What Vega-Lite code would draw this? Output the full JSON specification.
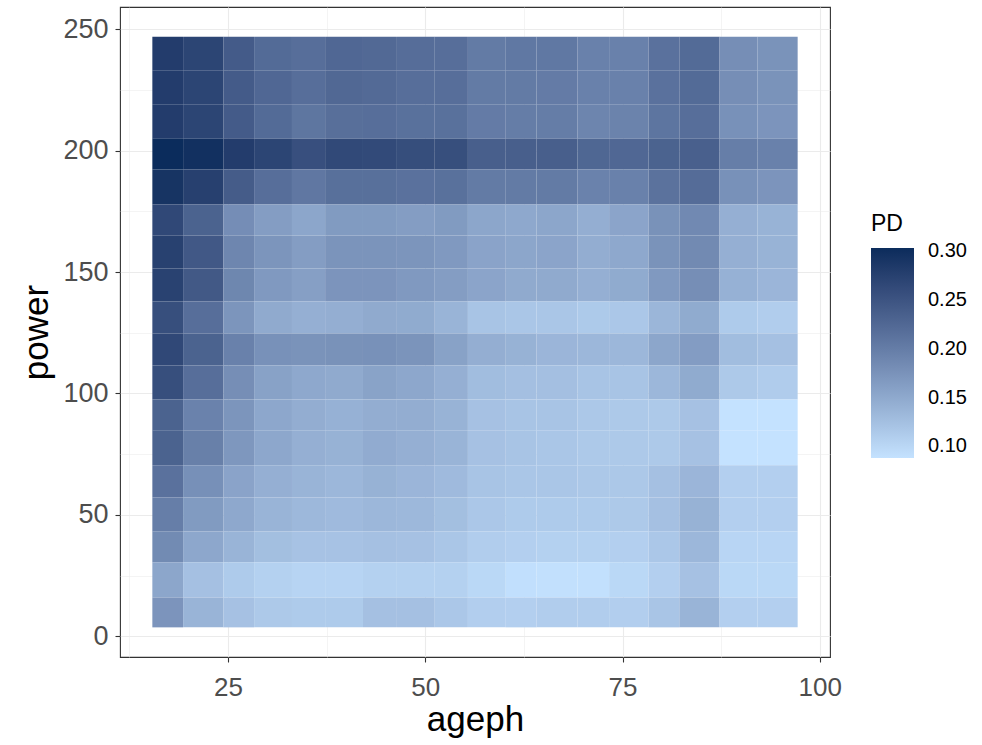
{
"$schema": "https://vega.github.io/schema/vega-lite/v6.json",
"width": 710, "height": 650,
"autosize": {"type": "none"},
"padding": {"left": 120, "top": 7, "right": 152, "bottom": 88},
"config": {"view": {"stroke": "#333333", "strokeWidth": 1.1}, "font": "Liberation Sans"},
"data": {"values": [
{"a0":15.4,"a1":19.3,"p0":232.9,"p1":246.9,"PD":0.281},{"a0":19.3,"a1":24.4,"p0":232.9,"p1":246.9,"PD":0.270},{"a0":24.4,"a1":28.3,"p0":232.9,"p1":246.9,"PD":0.241},{"a0":28.3,"a1":33.1,"p0":232.9,"p1":246.9,"PD":0.222},{"a0":33.1,"a1":37.3,"p0":232.9,"p1":246.9,"PD":0.218},{"a0":37.3,"a1":42.1,"p0":232.9,"p1":246.9,"PD":0.226},{"a0":42.1,"a1":46.4,"p0":232.9,"p1":246.9,"PD":0.224},{"a0":46.4,"a1":51.2,"p0":232.9,"p1":246.9,"PD":0.219},{"a0":51.2,"a1":55.4,"p0":232.9,"p1":246.9,"PD":0.218},{"a0":55.4,"a1":60.2,"p0":232.9,"p1":246.9,"PD":0.203},{"a0":60.2,"a1":64.1,"p0":232.9,"p1":246.9,"PD":0.206},{"a0":64.1,"a1":69.3,"p0":232.9,"p1":246.9,"PD":0.206},{"a0":69.3,"a1":73.3,"p0":232.9,"p1":246.9,"PD":0.195},{"a0":73.3,"a1":78.3,"p0":232.9,"p1":246.9,"PD":0.195},{"a0":78.3,"a1":82.2,"p0":232.9,"p1":246.9,"PD":0.214},{"a0":82.2,"a1":87.3,"p0":232.9,"p1":246.9,"PD":0.222},{"a0":87.3,"a1":92.1,"p0":232.9,"p1":246.9,"PD":0.180},{"a0":92.1,"a1":97.2,"p0":232.9,"p1":246.9,"PD":0.175},
{"a0":15.4,"a1":19.3,"p0":218.9,"p1":232.9,"PD":0.281},{"a0":19.3,"a1":24.4,"p0":218.9,"p1":232.9,"PD":0.270},{"a0":24.4,"a1":28.3,"p0":218.9,"p1":232.9,"PD":0.241},{"a0":28.3,"a1":33.1,"p0":218.9,"p1":232.9,"PD":0.226},{"a0":33.1,"a1":37.3,"p0":218.9,"p1":232.9,"PD":0.218},{"a0":37.3,"a1":42.1,"p0":218.9,"p1":232.9,"PD":0.225},{"a0":42.1,"a1":46.4,"p0":218.9,"p1":232.9,"PD":0.223},{"a0":46.4,"a1":51.2,"p0":218.9,"p1":232.9,"PD":0.218},{"a0":51.2,"a1":55.4,"p0":218.9,"p1":232.9,"PD":0.218},{"a0":55.4,"a1":60.2,"p0":218.9,"p1":232.9,"PD":0.203},{"a0":60.2,"a1":64.1,"p0":218.9,"p1":232.9,"PD":0.203},{"a0":64.1,"a1":69.3,"p0":218.9,"p1":232.9,"PD":0.202},{"a0":69.3,"a1":73.3,"p0":218.9,"p1":232.9,"PD":0.195},{"a0":73.3,"a1":78.3,"p0":218.9,"p1":232.9,"PD":0.195},{"a0":78.3,"a1":82.2,"p0":218.9,"p1":232.9,"PD":0.214},{"a0":82.2,"a1":87.3,"p0":218.9,"p1":232.9,"PD":0.222},{"a0":87.3,"a1":92.1,"p0":218.9,"p1":232.9,"PD":0.180},{"a0":92.1,"a1":97.2,"p0":218.9,"p1":232.9,"PD":0.175},
{"a0":15.4,"a1":19.3,"p0":204.9,"p1":218.9,"PD":0.281},{"a0":19.3,"a1":24.4,"p0":204.9,"p1":218.9,"PD":0.270},{"a0":24.4,"a1":28.3,"p0":204.9,"p1":218.9,"PD":0.241},{"a0":28.3,"a1":33.1,"p0":204.9,"p1":218.9,"PD":0.222},{"a0":33.1,"a1":37.3,"p0":204.9,"p1":218.9,"PD":0.209},{"a0":37.3,"a1":42.1,"p0":204.9,"p1":218.9,"PD":0.217},{"a0":42.1,"a1":46.4,"p0":204.9,"p1":218.9,"PD":0.218},{"a0":46.4,"a1":51.2,"p0":204.9,"p1":218.9,"PD":0.215},{"a0":51.2,"a1":55.4,"p0":204.9,"p1":218.9,"PD":0.215},{"a0":55.4,"a1":60.2,"p0":204.9,"p1":218.9,"PD":0.202},{"a0":60.2,"a1":64.1,"p0":204.9,"p1":218.9,"PD":0.200},{"a0":64.1,"a1":69.3,"p0":204.9,"p1":218.9,"PD":0.200},{"a0":69.3,"a1":73.3,"p0":204.9,"p1":218.9,"PD":0.191},{"a0":73.3,"a1":78.3,"p0":204.9,"p1":218.9,"PD":0.193},{"a0":78.3,"a1":82.2,"p0":204.9,"p1":218.9,"PD":0.210},{"a0":82.2,"a1":87.3,"p0":204.9,"p1":218.9,"PD":0.218},{"a0":87.3,"a1":92.1,"p0":204.9,"p1":218.9,"PD":0.177},{"a0":92.1,"a1":97.2,"p0":204.9,"p1":218.9,"PD":0.173},
{"a0":15.4,"a1":19.3,"p0":192.2,"p1":204.9,"PD":0.3035},{"a0":19.3,"a1":24.4,"p0":192.2,"p1":204.9,"PD":0.298},{"a0":24.4,"a1":28.3,"p0":192.2,"p1":204.9,"PD":0.281},{"a0":28.3,"a1":33.1,"p0":192.2,"p1":204.9,"PD":0.270},{"a0":33.1,"a1":37.3,"p0":192.2,"p1":204.9,"PD":0.256},{"a0":37.3,"a1":42.1,"p0":192.2,"p1":204.9,"PD":0.264},{"a0":42.1,"a1":46.4,"p0":192.2,"p1":204.9,"PD":0.263},{"a0":46.4,"a1":51.2,"p0":192.2,"p1":204.9,"PD":0.258},{"a0":51.2,"a1":55.4,"p0":192.2,"p1":204.9,"PD":0.257},{"a0":55.4,"a1":60.2,"p0":192.2,"p1":204.9,"PD":0.236},{"a0":60.2,"a1":64.1,"p0":192.2,"p1":204.9,"PD":0.236},{"a0":64.1,"a1":69.3,"p0":192.2,"p1":204.9,"PD":0.236},{"a0":69.3,"a1":73.3,"p0":192.2,"p1":204.9,"PD":0.227},{"a0":73.3,"a1":78.3,"p0":192.2,"p1":204.9,"PD":0.226},{"a0":78.3,"a1":82.2,"p0":192.2,"p1":204.9,"PD":0.232},{"a0":82.2,"a1":87.3,"p0":192.2,"p1":204.9,"PD":0.235},{"a0":87.3,"a1":92.1,"p0":192.2,"p1":204.9,"PD":0.199},{"a0":92.1,"a1":97.2,"p0":192.2,"p1":204.9,"PD":0.195},
{"a0":15.4,"a1":19.3,"p0":177.8,"p1":192.2,"PD":0.293},{"a0":19.3,"a1":24.4,"p0":177.8,"p1":192.2,"PD":0.276},{"a0":24.4,"a1":28.3,"p0":177.8,"p1":192.2,"PD":0.240},{"a0":28.3,"a1":33.1,"p0":177.8,"p1":192.2,"PD":0.218},{"a0":33.1,"a1":37.3,"p0":177.8,"p1":192.2,"PD":0.207},{"a0":37.3,"a1":42.1,"p0":177.8,"p1":192.2,"PD":0.216},{"a0":42.1,"a1":46.4,"p0":177.8,"p1":192.2,"PD":0.216},{"a0":46.4,"a1":51.2,"p0":177.8,"p1":192.2,"PD":0.214},{"a0":51.2,"a1":55.4,"p0":177.8,"p1":192.2,"PD":0.215},{"a0":55.4,"a1":60.2,"p0":177.8,"p1":192.2,"PD":0.203},{"a0":60.2,"a1":64.1,"p0":177.8,"p1":192.2,"PD":0.203},{"a0":64.1,"a1":69.3,"p0":177.8,"p1":192.2,"PD":0.203},{"a0":69.3,"a1":73.3,"p0":177.8,"p1":192.2,"PD":0.194},{"a0":73.3,"a1":78.3,"p0":177.8,"p1":192.2,"PD":0.195},{"a0":78.3,"a1":82.2,"p0":177.8,"p1":192.2,"PD":0.213},{"a0":82.2,"a1":87.3,"p0":177.8,"p1":192.2,"PD":0.220},{"a0":87.3,"a1":92.1,"p0":177.8,"p1":192.2,"PD":0.177},{"a0":92.1,"a1":97.2,"p0":177.8,"p1":192.2,"PD":0.173},
{"a0":15.4,"a1":19.3,"p0":165.0,"p1":177.8,"PD":0.265},{"a0":19.3,"a1":24.4,"p0":165.0,"p1":177.8,"PD":0.232},{"a0":24.4,"a1":28.3,"p0":165.0,"p1":177.8,"PD":0.181},{"a0":28.3,"a1":33.1,"p0":165.0,"p1":177.8,"PD":0.163},{"a0":33.1,"a1":37.3,"p0":165.0,"p1":177.8,"PD":0.153},{"a0":37.3,"a1":42.1,"p0":165.0,"p1":177.8,"PD":0.166},{"a0":42.1,"a1":46.4,"p0":165.0,"p1":177.8,"PD":0.166},{"a0":46.4,"a1":51.2,"p0":165.0,"p1":177.8,"PD":0.163},{"a0":51.2,"a1":55.4,"p0":165.0,"p1":177.8,"PD":0.166},{"a0":55.4,"a1":60.2,"p0":165.0,"p1":177.8,"PD":0.153},{"a0":60.2,"a1":64.1,"p0":165.0,"p1":177.8,"PD":0.151},{"a0":64.1,"a1":69.3,"p0":165.0,"p1":177.8,"PD":0.153},{"a0":69.3,"a1":73.3,"p0":165.0,"p1":177.8,"PD":0.144},{"a0":73.3,"a1":78.3,"p0":165.0,"p1":177.8,"PD":0.155},{"a0":78.3,"a1":82.2,"p0":165.0,"p1":177.8,"PD":0.176},{"a0":82.2,"a1":87.3,"p0":165.0,"p1":177.8,"PD":0.186},{"a0":87.3,"a1":92.1,"p0":165.0,"p1":177.8,"PD":0.143},{"a0":92.1,"a1":97.2,"p0":165.0,"p1":177.8,"PD":0.139},
{"a0":15.4,"a1":19.3,"p0":151.4,"p1":165.0,"PD":0.275},{"a0":19.3,"a1":24.4,"p0":151.4,"p1":165.0,"PD":0.245},{"a0":24.4,"a1":28.3,"p0":151.4,"p1":165.0,"PD":0.190},{"a0":28.3,"a1":33.1,"p0":151.4,"p1":165.0,"PD":0.172},{"a0":33.1,"a1":37.3,"p0":151.4,"p1":165.0,"PD":0.163},{"a0":37.3,"a1":42.1,"p0":151.4,"p1":165.0,"PD":0.174},{"a0":42.1,"a1":46.4,"p0":151.4,"p1":165.0,"PD":0.174},{"a0":46.4,"a1":51.2,"p0":151.4,"p1":165.0,"PD":0.172},{"a0":51.2,"a1":55.4,"p0":151.4,"p1":165.0,"PD":0.168},{"a0":55.4,"a1":60.2,"p0":151.4,"p1":165.0,"PD":0.156},{"a0":60.2,"a1":64.1,"p0":151.4,"p1":165.0,"PD":0.153},{"a0":64.1,"a1":69.3,"p0":151.4,"p1":165.0,"PD":0.155},{"a0":69.3,"a1":73.3,"p0":151.4,"p1":165.0,"PD":0.145},{"a0":73.3,"a1":78.3,"p0":151.4,"p1":165.0,"PD":0.151},{"a0":78.3,"a1":82.2,"p0":151.4,"p1":165.0,"PD":0.175},{"a0":82.2,"a1":87.3,"p0":151.4,"p1":165.0,"PD":0.185},{"a0":87.3,"a1":92.1,"p0":151.4,"p1":165.0,"PD":0.143},{"a0":92.1,"a1":97.2,"p0":151.4,"p1":165.0,"PD":0.139},
{"a0":15.4,"a1":19.3,"p0":137.9,"p1":151.4,"PD":0.274},{"a0":19.3,"a1":24.4,"p0":137.9,"p1":151.4,"PD":0.244},{"a0":24.4,"a1":28.3,"p0":137.9,"p1":151.4,"PD":0.189},{"a0":28.3,"a1":33.1,"p0":137.9,"p1":151.4,"PD":0.168},{"a0":33.1,"a1":37.3,"p0":137.9,"p1":151.4,"PD":0.161},{"a0":37.3,"a1":42.1,"p0":137.9,"p1":151.4,"PD":0.173},{"a0":42.1,"a1":46.4,"p0":137.9,"p1":151.4,"PD":0.173},{"a0":46.4,"a1":51.2,"p0":137.9,"p1":151.4,"PD":0.168},{"a0":51.2,"a1":55.4,"p0":137.9,"p1":151.4,"PD":0.163},{"a0":55.4,"a1":60.2,"p0":137.9,"p1":151.4,"PD":0.155},{"a0":60.2,"a1":64.1,"p0":137.9,"p1":151.4,"PD":0.149},{"a0":64.1,"a1":69.3,"p0":137.9,"p1":151.4,"PD":0.149},{"a0":69.3,"a1":73.3,"p0":137.9,"p1":151.4,"PD":0.143},{"a0":73.3,"a1":78.3,"p0":137.9,"p1":151.4,"PD":0.148},{"a0":78.3,"a1":82.2,"p0":137.9,"p1":151.4,"PD":0.168},{"a0":82.2,"a1":87.3,"p0":137.9,"p1":151.4,"PD":0.180},{"a0":87.3,"a1":92.1,"p0":137.9,"p1":151.4,"PD":0.141},{"a0":92.1,"a1":97.2,"p0":137.9,"p1":151.4,"PD":0.136},
{"a0":15.4,"a1":19.3,"p0":124.7,"p1":137.9,"PD":0.257},{"a0":19.3,"a1":24.4,"p0":124.7,"p1":137.9,"PD":0.218},{"a0":24.4,"a1":28.3,"p0":124.7,"p1":137.9,"PD":0.172},{"a0":28.3,"a1":33.1,"p0":124.7,"p1":137.9,"PD":0.149},{"a0":33.1,"a1":37.3,"p0":124.7,"p1":137.9,"PD":0.143},{"a0":37.3,"a1":42.1,"p0":124.7,"p1":137.9,"PD":0.144},{"a0":42.1,"a1":46.4,"p0":124.7,"p1":137.9,"PD":0.149},{"a0":46.4,"a1":51.2,"p0":124.7,"p1":137.9,"PD":0.148},{"a0":51.2,"a1":55.4,"p0":124.7,"p1":137.9,"PD":0.138},{"a0":55.4,"a1":60.2,"p0":124.7,"p1":137.9,"PD":0.120},{"a0":60.2,"a1":64.1,"p0":124.7,"p1":137.9,"PD":0.118},{"a0":64.1,"a1":69.3,"p0":124.7,"p1":137.9,"PD":0.118},{"a0":69.3,"a1":73.3,"p0":124.7,"p1":137.9,"PD":0.114},{"a0":73.3,"a1":78.3,"p0":124.7,"p1":137.9,"PD":0.117},{"a0":78.3,"a1":82.2,"p0":124.7,"p1":137.9,"PD":0.135},{"a0":82.2,"a1":87.3,"p0":124.7,"p1":137.9,"PD":0.148},{"a0":87.3,"a1":92.1,"p0":124.7,"p1":137.9,"PD":0.113},{"a0":92.1,"a1":97.2,"p0":124.7,"p1":137.9,"PD":0.110},
{"a0":15.4,"a1":19.3,"p0":111.5,"p1":124.7,"PD":0.265},{"a0":19.3,"a1":24.4,"p0":111.5,"p1":124.7,"PD":0.232},{"a0":24.4,"a1":28.3,"p0":111.5,"p1":124.7,"PD":0.195},{"a0":28.3,"a1":33.1,"p0":111.5,"p1":124.7,"PD":0.177},{"a0":33.1,"a1":37.3,"p0":111.5,"p1":124.7,"PD":0.175},{"a0":37.3,"a1":42.1,"p0":111.5,"p1":124.7,"PD":0.176},{"a0":42.1,"a1":46.4,"p0":111.5,"p1":124.7,"PD":0.177},{"a0":46.4,"a1":51.2,"p0":111.5,"p1":124.7,"PD":0.174},{"a0":51.2,"a1":55.4,"p0":111.5,"p1":124.7,"PD":0.158},{"a0":55.4,"a1":60.2,"p0":111.5,"p1":124.7,"PD":0.144},{"a0":60.2,"a1":64.1,"p0":111.5,"p1":124.7,"PD":0.140},{"a0":64.1,"a1":69.3,"p0":111.5,"p1":124.7,"PD":0.136},{"a0":69.3,"a1":73.3,"p0":111.5,"p1":124.7,"PD":0.134},{"a0":73.3,"a1":78.3,"p0":111.5,"p1":124.7,"PD":0.134},{"a0":78.3,"a1":82.2,"p0":111.5,"p1":124.7,"PD":0.153},{"a0":82.2,"a1":87.3,"p0":111.5,"p1":124.7,"PD":0.164},{"a0":87.3,"a1":92.1,"p0":111.5,"p1":124.7,"PD":0.128},{"a0":92.1,"a1":97.2,"p0":111.5,"p1":124.7,"PD":0.124},
{"a0":15.4,"a1":19.3,"p0":97.5,"p1":111.5,"PD":0.257},{"a0":19.3,"a1":24.4,"p0":97.5,"p1":111.5,"PD":0.218},{"a0":24.4,"a1":28.3,"p0":97.5,"p1":111.5,"PD":0.180},{"a0":28.3,"a1":33.1,"p0":97.5,"p1":111.5,"PD":0.158},{"a0":33.1,"a1":37.3,"p0":97.5,"p1":111.5,"PD":0.151},{"a0":37.3,"a1":42.1,"p0":97.5,"p1":111.5,"PD":0.149},{"a0":42.1,"a1":46.4,"p0":97.5,"p1":111.5,"PD":0.157},{"a0":46.4,"a1":51.2,"p0":97.5,"p1":111.5,"PD":0.152},{"a0":51.2,"a1":55.4,"p0":97.5,"p1":111.5,"PD":0.143},{"a0":55.4,"a1":60.2,"p0":97.5,"p1":111.5,"PD":0.128},{"a0":60.2,"a1":64.1,"p0":97.5,"p1":111.5,"PD":0.125},{"a0":64.1,"a1":69.3,"p0":97.5,"p1":111.5,"PD":0.125},{"a0":69.3,"a1":73.3,"p0":97.5,"p1":111.5,"PD":0.120},{"a0":73.3,"a1":78.3,"p0":97.5,"p1":111.5,"PD":0.120},{"a0":78.3,"a1":82.2,"p0":97.5,"p1":111.5,"PD":0.134},{"a0":82.2,"a1":87.3,"p0":97.5,"p1":111.5,"PD":0.148},{"a0":87.3,"a1":92.1,"p0":97.5,"p1":111.5,"PD":0.115},{"a0":92.1,"a1":97.2,"p0":97.5,"p1":111.5,"PD":0.111},
{"a0":15.4,"a1":19.3,"p0":84.8,"p1":97.5,"PD":0.232},{"a0":19.3,"a1":24.4,"p0":84.8,"p1":97.5,"PD":0.194},{"a0":24.4,"a1":28.3,"p0":84.8,"p1":97.5,"PD":0.172},{"a0":28.3,"a1":33.1,"p0":84.8,"p1":97.5,"PD":0.152},{"a0":33.1,"a1":37.3,"p0":84.8,"p1":97.5,"PD":0.145},{"a0":37.3,"a1":42.1,"p0":84.8,"p1":97.5,"PD":0.141},{"a0":42.1,"a1":46.4,"p0":84.8,"p1":97.5,"PD":0.145},{"a0":46.4,"a1":51.2,"p0":84.8,"p1":97.5,"PD":0.145},{"a0":51.2,"a1":55.4,"p0":84.8,"p1":97.5,"PD":0.139},{"a0":55.4,"a1":60.2,"p0":84.8,"p1":97.5,"PD":0.123},{"a0":60.2,"a1":64.1,"p0":84.8,"p1":97.5,"PD":0.120},{"a0":64.1,"a1":69.3,"p0":84.8,"p1":97.5,"PD":0.120},{"a0":69.3,"a1":73.3,"p0":84.8,"p1":97.5,"PD":0.116},{"a0":73.3,"a1":78.3,"p0":84.8,"p1":97.5,"PD":0.115},{"a0":78.3,"a1":82.2,"p0":84.8,"p1":97.5,"PD":0.115},{"a0":82.2,"a1":87.3,"p0":84.8,"p1":97.5,"PD":0.123},{"a0":87.3,"a1":92.1,"p0":84.8,"p1":97.5,"PD":0.088},{"a0":92.1,"a1":97.2,"p0":84.8,"p1":97.5,"PD":0.088},
{"a0":15.4,"a1":19.3,"p0":70.4,"p1":84.8,"PD":0.232},{"a0":19.3,"a1":24.4,"p0":70.4,"p1":84.8,"PD":0.197},{"a0":24.4,"a1":28.3,"p0":70.4,"p1":84.8,"PD":0.170},{"a0":28.3,"a1":33.1,"p0":70.4,"p1":84.8,"PD":0.152},{"a0":33.1,"a1":37.3,"p0":70.4,"p1":84.8,"PD":0.143},{"a0":37.3,"a1":42.1,"p0":70.4,"p1":84.8,"PD":0.140},{"a0":42.1,"a1":46.4,"p0":70.4,"p1":84.8,"PD":0.147},{"a0":46.4,"a1":51.2,"p0":70.4,"p1":84.8,"PD":0.143},{"a0":51.2,"a1":55.4,"p0":70.4,"p1":84.8,"PD":0.138},{"a0":55.4,"a1":60.2,"p0":70.4,"p1":84.8,"PD":0.123},{"a0":60.2,"a1":64.1,"p0":70.4,"p1":84.8,"PD":0.120},{"a0":64.1,"a1":69.3,"p0":70.4,"p1":84.8,"PD":0.118},{"a0":69.3,"a1":73.3,"p0":70.4,"p1":84.8,"PD":0.115},{"a0":73.3,"a1":78.3,"p0":70.4,"p1":84.8,"PD":0.115},{"a0":78.3,"a1":82.2,"p0":70.4,"p1":84.8,"PD":0.115},{"a0":82.2,"a1":87.3,"p0":70.4,"p1":84.8,"PD":0.123},{"a0":87.3,"a1":92.1,"p0":70.4,"p1":84.8,"PD":0.088},{"a0":92.1,"a1":97.2,"p0":70.4,"p1":84.8,"PD":0.088},
{"a0":15.4,"a1":19.3,"p0":57.2,"p1":70.4,"PD":0.214},{"a0":19.3,"a1":24.4,"p0":57.2,"p1":70.4,"PD":0.178},{"a0":24.4,"a1":28.3,"p0":57.2,"p1":70.4,"PD":0.156},{"a0":28.3,"a1":33.1,"p0":57.2,"p1":70.4,"PD":0.143},{"a0":33.1,"a1":37.3,"p0":57.2,"p1":70.4,"PD":0.138},{"a0":37.3,"a1":42.1,"p0":57.2,"p1":70.4,"PD":0.134},{"a0":42.1,"a1":46.4,"p0":57.2,"p1":70.4,"PD":0.140},{"a0":46.4,"a1":51.2,"p0":57.2,"p1":70.4,"PD":0.136},{"a0":51.2,"a1":55.4,"p0":57.2,"p1":70.4,"PD":0.131},{"a0":55.4,"a1":60.2,"p0":57.2,"p1":70.4,"PD":0.120},{"a0":60.2,"a1":64.1,"p0":57.2,"p1":70.4,"PD":0.118},{"a0":64.1,"a1":69.3,"p0":57.2,"p1":70.4,"PD":0.118},{"a0":69.3,"a1":73.3,"p0":57.2,"p1":70.4,"PD":0.116},{"a0":73.3,"a1":78.3,"p0":57.2,"p1":70.4,"PD":0.116},{"a0":78.3,"a1":82.2,"p0":57.2,"p1":70.4,"PD":0.124},{"a0":82.2,"a1":87.3,"p0":57.2,"p1":70.4,"PD":0.136},{"a0":87.3,"a1":92.1,"p0":57.2,"p1":70.4,"PD":0.108},{"a0":92.1,"a1":97.2,"p0":57.2,"p1":70.4,"PD":0.108},
{"a0":15.4,"a1":19.3,"p0":43.2,"p1":57.2,"PD":0.199},{"a0":19.3,"a1":24.4,"p0":43.2,"p1":57.2,"PD":0.166},{"a0":24.4,"a1":28.3,"p0":43.2,"p1":57.2,"PD":0.151},{"a0":28.3,"a1":33.1,"p0":43.2,"p1":57.2,"PD":0.138},{"a0":33.1,"a1":37.3,"p0":43.2,"p1":57.2,"PD":0.133},{"a0":37.3,"a1":42.1,"p0":43.2,"p1":57.2,"PD":0.131},{"a0":42.1,"a1":46.4,"p0":43.2,"p1":57.2,"PD":0.134},{"a0":46.4,"a1":51.2,"p0":43.2,"p1":57.2,"PD":0.133},{"a0":51.2,"a1":55.4,"p0":43.2,"p1":57.2,"PD":0.126},{"a0":55.4,"a1":60.2,"p0":43.2,"p1":57.2,"PD":0.117},{"a0":60.2,"a1":64.1,"p0":43.2,"p1":57.2,"PD":0.113},{"a0":64.1,"a1":69.3,"p0":43.2,"p1":57.2,"PD":0.113},{"a0":69.3,"a1":73.3,"p0":43.2,"p1":57.2,"PD":0.113},{"a0":73.3,"a1":78.3,"p0":43.2,"p1":57.2,"PD":0.115},{"a0":78.3,"a1":82.2,"p0":43.2,"p1":57.2,"PD":0.124},{"a0":82.2,"a1":87.3,"p0":43.2,"p1":57.2,"PD":0.140},{"a0":87.3,"a1":92.1,"p0":43.2,"p1":57.2,"PD":0.108},{"a0":92.1,"a1":97.2,"p0":43.2,"p1":57.2,"PD":0.108},
{"a0":15.4,"a1":19.3,"p0":30.5,"p1":43.2,"PD":0.184},{"a0":19.3,"a1":24.4,"p0":30.5,"p1":43.2,"PD":0.152},{"a0":24.4,"a1":28.3,"p0":30.5,"p1":43.2,"PD":0.138},{"a0":28.3,"a1":33.1,"p0":30.5,"p1":43.2,"PD":0.126},{"a0":33.1,"a1":37.3,"p0":30.5,"p1":43.2,"PD":0.122},{"a0":37.3,"a1":42.1,"p0":30.5,"p1":43.2,"PD":0.122},{"a0":42.1,"a1":46.4,"p0":30.5,"p1":43.2,"PD":0.124},{"a0":46.4,"a1":51.2,"p0":30.5,"p1":43.2,"PD":0.123},{"a0":51.2,"a1":55.4,"p0":30.5,"p1":43.2,"PD":0.118},{"a0":55.4,"a1":60.2,"p0":30.5,"p1":43.2,"PD":0.110},{"a0":60.2,"a1":64.1,"p0":30.5,"p1":43.2,"PD":0.108},{"a0":64.1,"a1":69.3,"p0":30.5,"p1":43.2,"PD":0.106},{"a0":69.3,"a1":73.3,"p0":30.5,"p1":43.2,"PD":0.106},{"a0":73.3,"a1":78.3,"p0":30.5,"p1":43.2,"PD":0.108},{"a0":78.3,"a1":82.2,"p0":30.5,"p1":43.2,"PD":0.117},{"a0":82.2,"a1":87.3,"p0":30.5,"p1":43.2,"PD":0.134},{"a0":87.3,"a1":92.1,"p0":30.5,"p1":43.2,"PD":0.102},{"a0":92.1,"a1":97.2,"p0":30.5,"p1":43.2,"PD":0.102},
{"a0":15.4,"a1":19.3,"p0":16.0,"p1":30.5,"PD":0.153},{"a0":19.3,"a1":24.4,"p0":16.0,"p1":30.5,"PD":0.124},{"a0":24.4,"a1":28.3,"p0":16.0,"p1":30.5,"PD":0.113},{"a0":28.3,"a1":33.1,"p0":16.0,"p1":30.5,"PD":0.106},{"a0":33.1,"a1":37.3,"p0":16.0,"p1":30.5,"PD":0.103},{"a0":37.3,"a1":42.1,"p0":16.0,"p1":30.5,"PD":0.103},{"a0":42.1,"a1":46.4,"p0":16.0,"p1":30.5,"PD":0.106},{"a0":46.4,"a1":51.2,"p0":16.0,"p1":30.5,"PD":0.106},{"a0":51.2,"a1":55.4,"p0":16.0,"p1":30.5,"PD":0.106},{"a0":55.4,"a1":60.2,"p0":16.0,"p1":30.5,"PD":0.099},{"a0":60.2,"a1":64.1,"p0":16.0,"p1":30.5,"PD":0.091},{"a0":64.1,"a1":69.3,"p0":16.0,"p1":30.5,"PD":0.090},{"a0":69.3,"a1":73.3,"p0":16.0,"p1":30.5,"PD":0.090},{"a0":73.3,"a1":78.3,"p0":16.0,"p1":30.5,"PD":0.099},{"a0":78.3,"a1":82.2,"p0":16.0,"p1":30.5,"PD":0.108},{"a0":82.2,"a1":87.3,"p0":16.0,"p1":30.5,"PD":0.123},{"a0":87.3,"a1":92.1,"p0":16.0,"p1":30.5,"PD":0.099},{"a0":92.1,"a1":97.2,"p0":16.0,"p1":30.5,"PD":0.099},
{"a0":15.4,"a1":19.3,"p0":3.7,"p1":16.0,"PD":0.173},{"a0":19.3,"a1":24.4,"p0":3.7,"p1":16.0,"PD":0.138},{"a0":24.4,"a1":28.3,"p0":3.7,"p1":16.0,"PD":0.123},{"a0":28.3,"a1":33.1,"p0":3.7,"p1":16.0,"PD":0.115},{"a0":33.1,"a1":37.3,"p0":3.7,"p1":16.0,"PD":0.113},{"a0":37.3,"a1":42.1,"p0":3.7,"p1":16.0,"PD":0.113},{"a0":42.1,"a1":46.4,"p0":3.7,"p1":16.0,"PD":0.124},{"a0":46.4,"a1":51.2,"p0":3.7,"p1":16.0,"PD":0.124},{"a0":51.2,"a1":55.4,"p0":3.7,"p1":16.0,"PD":0.117},{"a0":55.4,"a1":60.2,"p0":3.7,"p1":16.0,"PD":0.109},{"a0":60.2,"a1":64.1,"p0":3.7,"p1":16.0,"PD":0.108},{"a0":64.1,"a1":69.3,"p0":3.7,"p1":16.0,"PD":0.110},{"a0":69.3,"a1":73.3,"p0":3.7,"p1":16.0,"PD":0.110},{"a0":73.3,"a1":78.3,"p0":3.7,"p1":16.0,"PD":0.109},{"a0":78.3,"a1":82.2,"p0":3.7,"p1":16.0,"PD":0.119},{"a0":82.2,"a1":87.3,"p0":3.7,"p1":16.0,"PD":0.138},{"a0":87.3,"a1":92.1,"p0":3.7,"p1":16.0,"PD":0.108},{"a0":92.1,"a1":97.2,"p0":3.7,"p1":16.0,"PD":0.108}
]},
"mark": {"type": "rect", "strokeWidth": 0},
"encoding": {
"x": {"field": "a0", "type": "quantitative", "scale": {"domain": [11.3, 101.3], "nice": false, "zero": false},
 "axis": {"title": "ageph", "values": [12.5, 25, 37.5, 50, 62.5, 75, 87.5, 100],
  "labelExpr": "datum.value % 25 === 0 ? datum.label : ''",
  "grid": true, "gridColor": "#EBEBEB",
  "gridWidth": {"condition": {"test": "datum.value % 25 === 0", "value": 1.1}, "value": 0.55},
  "tickOpacity": {"condition": {"test": "datum.value % 25 === 0", "value": 1}, "value": 0},
  "tickColor": "#333333", "tickWidth": 1.1, "tickSize": 5, "domain": false,
  "labelFontSize": 26, "labelColor": "#4D4D4D", "labelPadding": 12, "labelFlush": false, "labelOverlap": false,
  "titleFontSize": 35, "titleFontWeight": "normal", "titleColor": "#000000", "titlePadding": 2}},
"x2": {"field": "a1"},
"y": {"field": "p0", "type": "quantitative", "scale": {"domain": [-8.5, 259.1], "nice": false, "zero": false},
 "axis": {"title": "power", "values": [0, 25, 50, 75, 100, 125, 150, 175, 200, 225, 250],
  "labelExpr": "datum.value % 50 === 0 ? datum.label : ''",
  "grid": true, "gridColor": "#EBEBEB",
  "gridWidth": {"condition": {"test": "datum.value % 50 === 0", "value": 1.1}, "value": 0.55},
  "tickOpacity": {"condition": {"test": "datum.value % 50 === 0", "value": 1}, "value": 0},
  "tickColor": "#333333", "tickWidth": 1.1, "tickSize": 5, "domain": false,
  "labelFontSize": 27, "labelColor": "#4D4D4D", "labelPadding": 7, "labelFlush": false, "labelOverlap": false,
  "titleFontSize": 35, "titleFontWeight": "normal", "titleColor": "#000000", "titlePadding": 8}},
"y2": {"field": "p1"},
"fill": {"field": "PD", "type": "quantitative",
 "scale": {"domain": [0.088, 0.3035], "range": ["#C4E2FF", "#0B2C5C"], "interpolate": "lab"},
 "legend": {"type": "gradient", "title": "PD", "orient": "none", "legendX": 751, "legendY": 206, "direction": "vertical",
  "gradientLength": 210, "gradientThickness": 43, "gradientStrokeWidth": 0,
  "values": [0.1, 0.15, 0.2, 0.25, 0.3], "format": ".2f",
  "titleFontSize": 23, "titleFontWeight": "normal", "titleColor": "#000000", "titlePadding": 12,
  "labelFontSize": 20, "labelColor": "#000000", "labelOffset": 14}}
}
}
